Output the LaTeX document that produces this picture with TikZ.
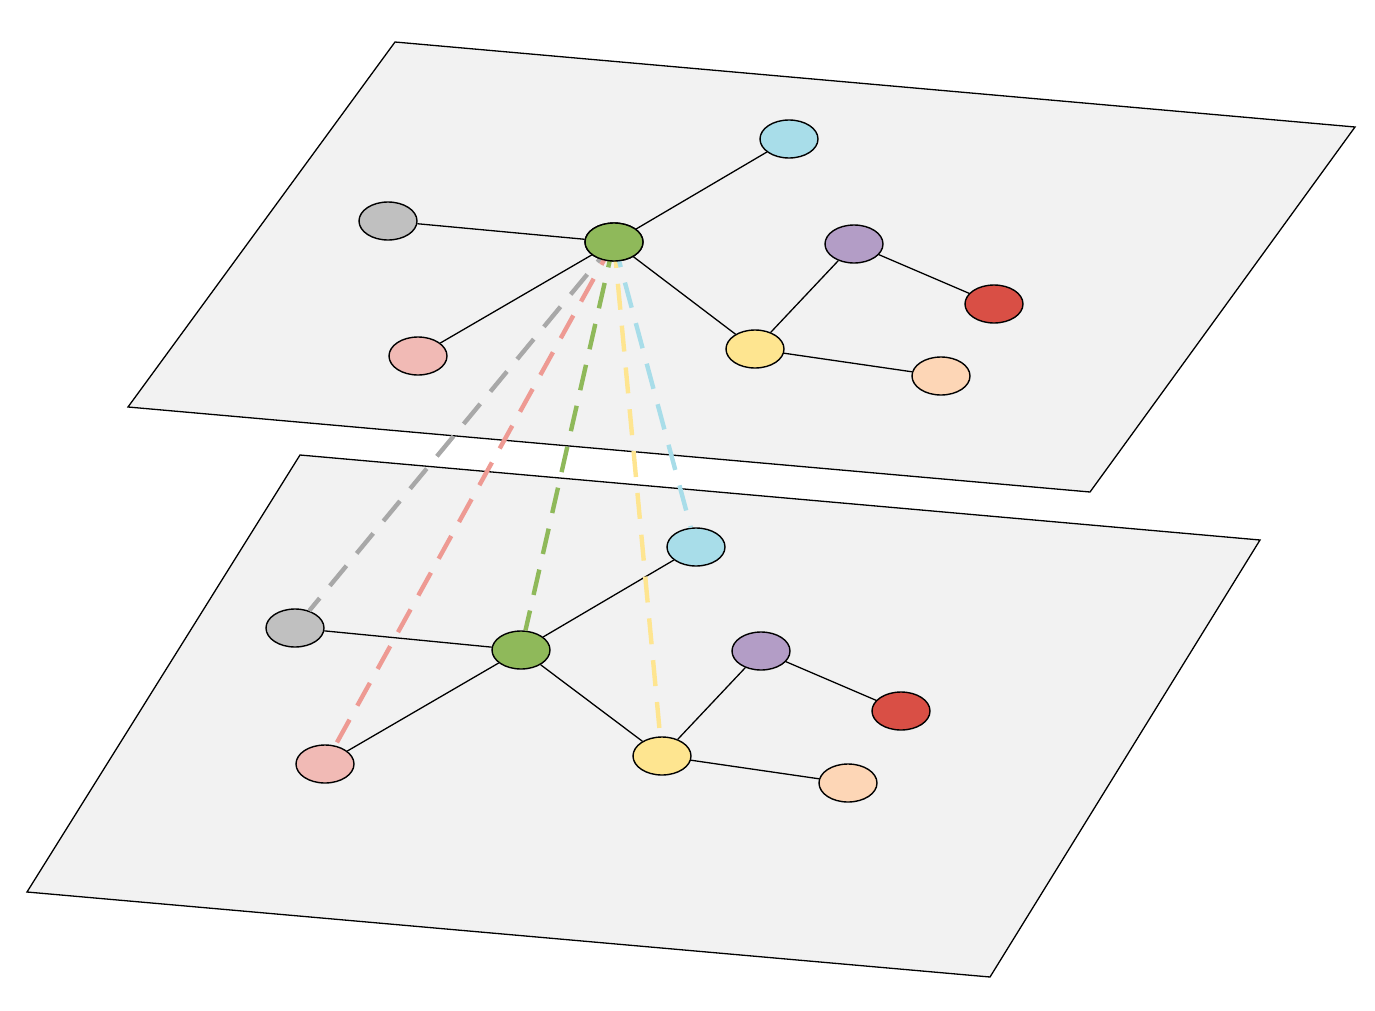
\documentclass[tikz,border=0pt]{standalone}
\usetikzlibrary{shapes.geometric}
\definecolor{cC}{HTML}{A8DDE9}\definecolor{cG}{HTML}{C0C0C0}\definecolor{cV}{HTML}{8FB95A}
\definecolor{cP}{HTML}{B39DC6}\definecolor{cR}{HTML}{D94F45}\definecolor{cK}{HTML}{F1BAB5}
\definecolor{cY}{HTML}{FEE590}\definecolor{cO}{HTML}{FDD6B6}\definecolor{pl}{HTML}{F2F2F2}
\definecolor{dG}{HTML}{A8A8A8}\definecolor{dK}{HTML}{EE9A93}
\begin{document}
\begin{tikzpicture}[x=0.5pt,y=-0.5pt,
 n/.style={ellipse,draw=black,line width=0.7pt,minimum width=29pt,minimum height=19pt,inner sep=0pt},
 e/.style={line width=0.65pt},
 plane/.style={fill=pl,draw=black,line width=0.65pt},
 d/.style={line width=2.2pt,dash pattern=on 13pt off 8pt}]
\useasboundingbox (0,0) rectangle (1375,1011);
% bottom plane
\draw[plane] (300,455) -- (1260,540) -- (990,977) -- (27,892) -- cycle;
\node[n,fill=cC] (bc) at (696,547) {};
\node[n,fill=cG] (bg) at (295,628) {};
\node[n,fill=cV] (bv) at (521,650) {};
\node[n,fill=cP] (bp) at (761,651) {};
\node[n,fill=cR] (br) at (901,711) {};
\node[n,fill=cK] (bk) at (325,764) {};
\node[n,fill=cY] (by) at (662,756) {};
\node[n,fill=cO] (bo) at (848,783) {};
\draw[e] (bv)--(bc) (bg)--(bv) (bv)--(bk) (bv)--(by) (by)--(bp) (bp)--(br) (by)--(bo);
% top plane
\draw[plane] (395,42) -- (1355,127) -- (1090,492) -- (128,407) -- cycle;
\node[n,fill=cC] (tc) at (789,139) {};
\node[n,fill=cG] (tg) at (388,221) {};
\node[n,fill=cV] (tv) at (614,242) {};
\node[n,fill=cP] (tp) at (854,244) {};
\node[n,fill=cR] (tr) at (994,304) {};
\node[n,fill=cK] (tk) at (418,356) {};
\node[n,fill=cY] (ty) at (755,349) {};
\node[n,fill=cO] (to) at (941,376) {};
\draw[e] (tv)--(tc) (tg)--(tv) (tv)--(tk) (tv)--(ty) (ty)--(tp) (tp)--(tr) (ty)--(to);
% inter-layer links
\draw[d,draw=dG] (tv.center)--(bg);
\draw[d,draw=dK] (tv.center)--(bk);
\draw[d,draw=cV] (tv.center)--(bv);
\draw[d,draw=cY] (tv.center)--(by);
\draw[d,draw=cC] (tv.center)--(bc);
\node[n,fill=cV] at (tv) {};
\end{tikzpicture}
\end{document}
